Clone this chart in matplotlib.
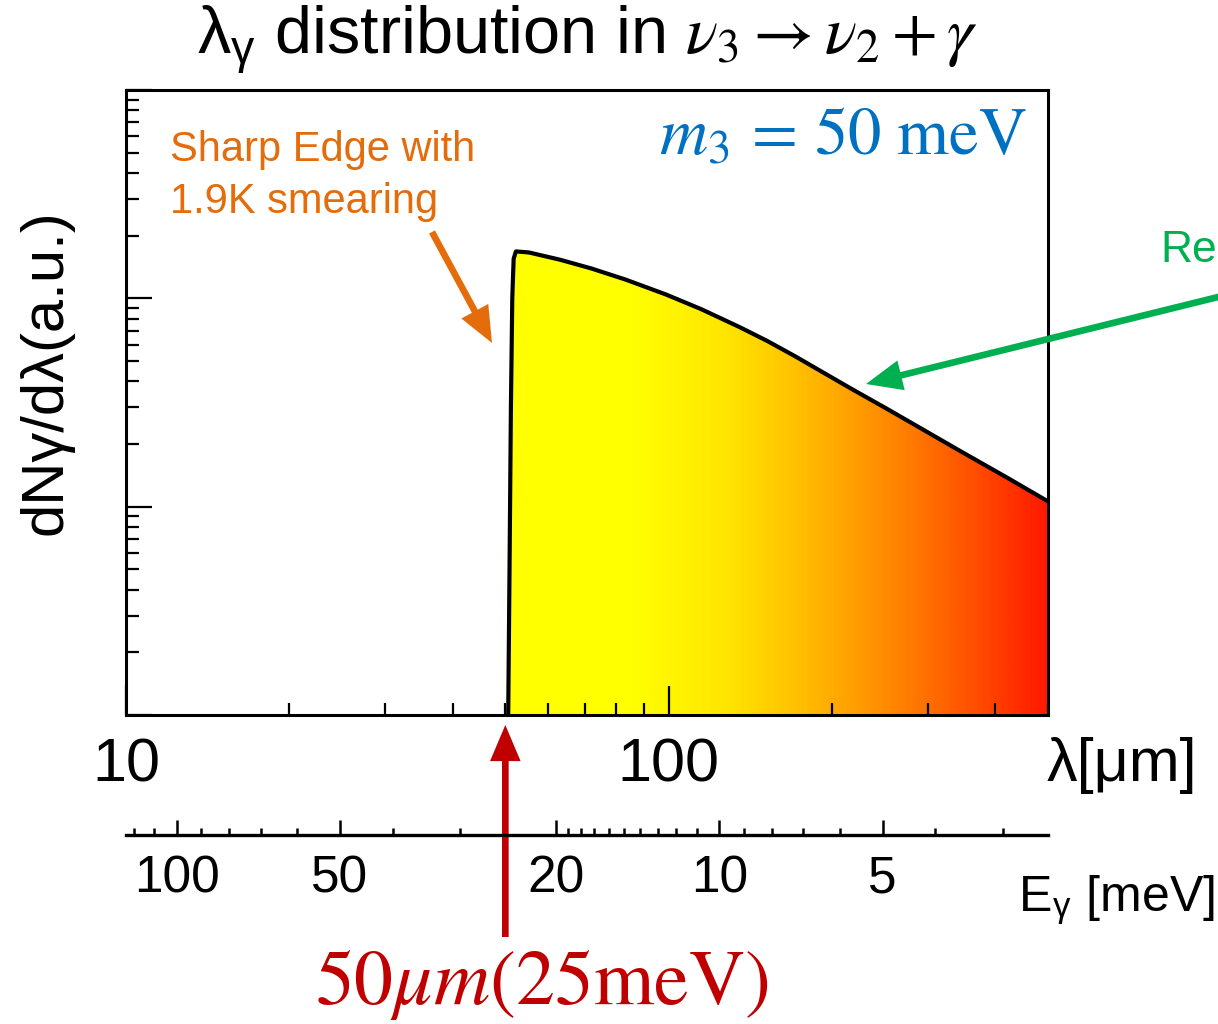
import numpy as np
import matplotlib
matplotlib.use('Agg')
import matplotlib.pyplot as plt
from matplotlib.colors import LinearSegmentedColormap
from matplotlib.image import AxesImage
from matplotlib.ticker import FixedLocator, FixedFormatter, NullFormatter, LogLocator

plt.rcParams['font.family'] = ['Liberation Sans', 'DejaVu Sans']
plt.rcParams['mathtext.fontset'] = 'custom'
plt.rcParams['mathtext.rm'] = 'STIXGeneral'
plt.rcParams['mathtext.it'] = 'STIXGeneral:italic'
plt.rcParams['mathtext.bf'] = 'STIXGeneral:bold'
plt.rcParams['mathtext.sf'] = 'Liberation Sans'

# ---------------- data ----------------
wavelength_um = [50.6, 50.9, 51.2, 51.5, 51.8, 52.3, 55.3, 63.2, 72.1, 83.3,
                 98.7, 114.6, 135.2, 151.8, 170.8, 216.3, 253.0, 345.7, 420.0, 500.0]
dN_dlambda = [0.09, 0.5, 3.0, 10.0, 15.5, 16.8, 16.6, 15.3, 13.9, 12.3,
              10.45, 8.89, 7.27, 6.25, 5.28, 3.70, 2.94, 1.84, 1.38, 1.06]

x_range = [10, 500]
y_range = [0.1, 100]
x_major = [10, 100]
x_major_labels = ['10', '100']

edge_um = 50
hc_meV_um = 1239.84
E_major = [100, 50, 20, 10, 5]
E_major_labels = ['100', '50', '20', '10', '5']
E_minor = [120, 110, 90, 80, 70, 60, 40, 30, 19, 18, 17, 16, 15, 14, 13, 12, 11,
           9, 8, 7, 6, 4, 3]

title = r'$\mathsf{\lambda_\gamma}$ distribution in $\nu_3 \rightarrow \nu_2 + \gamma$'
ylabel = 'dNγ/dλ(a.u.)'
xlabel = 'λ[μm]'
elabel = r'E$_\mathsf{\gamma}$ [meV]'
mass_label = r'$m_3\,=\,50\ \mathrm{meV}$'
edge_note = 'Sharp Edge with\n1.9K smearing'
edge_label = r'$50\mu m(25\mathrm{meV})$'
green_note = 'Re'

ORANGE = '#E46C0A'
GREEN = '#00B050'
RED = '#C00000'
BLUE = '#0070C0'

W, H = 1218, 1024
fig = plt.figure(figsize=(W / 100, H / 100), dpi=100)

def fx(px):
    return px / W

def fy(py):
    return 1 - py / H

ax = fig.add_axes([fx(126), fy(715), fx(1048 - 126), (715 - 90) / H])
ax.set_xscale('log')
ax.set_yscale('log')

# filled area (gradient clipped to the area under the curve)
fill = ax.fill_between(wavelength_um, dN_dlambda, 1e-3, facecolor='none',
                       edgecolor='none', lw=0)
cmap = LinearSegmentedColormap.from_list('ye_red', [
    (0.0, '#FFFF00'), (0.55, '#FFFF00'), (0.65, '#FFE600'), (0.73, '#FFC000'),
    (0.80, '#FF9A00'), (0.88, '#FF6A00'), (0.95, '#FF3C00'), (1.0, '#FF1A00')])
grad = np.linspace(0, 1, 600).reshape(1, -1)
im = AxesImage(ax, cmap=cmap, extent=(0, 1, 0, 1), transform=ax.transAxes,
               interpolation='bilinear', origin='lower')
im.set_data(grad)
im.set_clim(0, 1)
ax.add_image(im)
im.set_clip_path(fill.get_paths()[0], ax.transData)
im.set_zorder(1)

ax.plot(wavelength_um, dN_dlambda, color='black', lw=3,
        solid_joinstyle='round', solid_capstyle='round', zorder=3)

ax.set_xlim(*x_range)
ax.set_ylim(*y_range)

for s in ax.spines.values():
    s.set_linewidth(2.2)
    s.set_zorder(4)

ax.xaxis.set_major_locator(FixedLocator(x_major))
ax.xaxis.set_major_formatter(FixedFormatter(x_major_labels))
ax.xaxis.set_minor_locator(LogLocator(base=10, subs=np.arange(2, 10)))
ax.xaxis.set_minor_formatter(NullFormatter())
ax.yaxis.set_major_locator(LogLocator(base=10, numticks=10))
ax.yaxis.set_minor_locator(LogLocator(base=10, subs=np.arange(2, 10), numticks=10))
ax.yaxis.set_major_formatter(NullFormatter())
ax.yaxis.set_minor_formatter(NullFormatter())
ax.tick_params(which='both', direction='in', top=False, right=False, width=1.6)
ax.tick_params(axis='x', which='major', length=21, pad=16, labelsize=44)
ax.tick_params(axis='x', which='minor', length=9)
ax.tick_params(axis='y', which='major', length=19)
ax.tick_params(axis='y', which='minor', length=9)

# energy axis
axE = fig.add_axes([fx(126), fy(835), fx(1048 - 126), 0.0005])
axE.set_xscale('log')
axE.set_xlim(hc_meV_um / x_range[0], hc_meV_um / x_range[1])
for k in ['top', 'left', 'right']:
    axE.spines[k].set_visible(False)
axE.spines['bottom'].set_linewidth(2.4)
axE.patch.set_visible(False)
axE.yaxis.set_visible(False)
axE.xaxis.set_major_locator(FixedLocator(E_major))
axE.xaxis.set_major_formatter(FixedFormatter(E_major_labels))
axE.xaxis.set_minor_locator(FixedLocator(E_minor))
axE.xaxis.set_minor_formatter(NullFormatter())
axE.tick_params(which='both', direction='in', width=1.8)
axE.tick_params(which='major', length=11, pad=14, labelsize=37)
axE.tick_params(which='minor', length=5)

# texts
fig.text(fx(587), fy(40), title, ha='center', va='center', fontsize=48)
fig.text(fx(46), fy(372), ylabel, rotation=90, ha='center', va='center', fontsize=43)
fig.text(fx(1197), fy(765), xlabel, ha='right', va='center', fontsize=44)
fig.text(fx(1018), fy(900), elabel, ha='left', va='center', fontsize=36)
fig.text(fx(1027), fy(155), mass_label, ha='right', va='baseline', fontsize=48, color=BLUE)
fig.text(fx(170), fy(130), edge_note, ha='left', va='top', fontsize=30,
         color=ORANGE, linespacing=1.4)
fig.text(fx(1160), fy(262), green_note, ha='left', va='baseline', fontsize=32, color=GREEN)
fig.text(fx(542), fy(985), edge_label, ha='center', va='center', fontsize=56, color=RED)

def arrow(color):
    return dict(arrowstyle='simple,head_length=1.3,head_width=1.1,tail_width=0.24',
                mutation_scale=20, fc=color, ec='none', shrinkA=0, shrinkB=0)

fig.add_artist(matplotlib.text.Annotation('', xy=(fx(492), fy(343)), xycoords='figure fraction',
               xytext=(fx(432), fy(232)), textcoords='figure fraction', arrowprops=arrow(ORANGE)))
fig.add_artist(matplotlib.text.Annotation('', xy=(fx(866), fy(384)), xycoords='figure fraction',
               xytext=(fx(1240), fy(291.6)), textcoords='figure fraction', arrowprops=arrow(GREEN)))
ax.annotate('', xy=(edge_um, fy(725)), xycoords=('data', 'figure fraction'),
            xytext=(edge_um, fy(937)), textcoords=('data', 'figure fraction'),
            arrowprops=arrow(RED), annotation_clip=False)

fig.savefig('out.png', dpi=100)
